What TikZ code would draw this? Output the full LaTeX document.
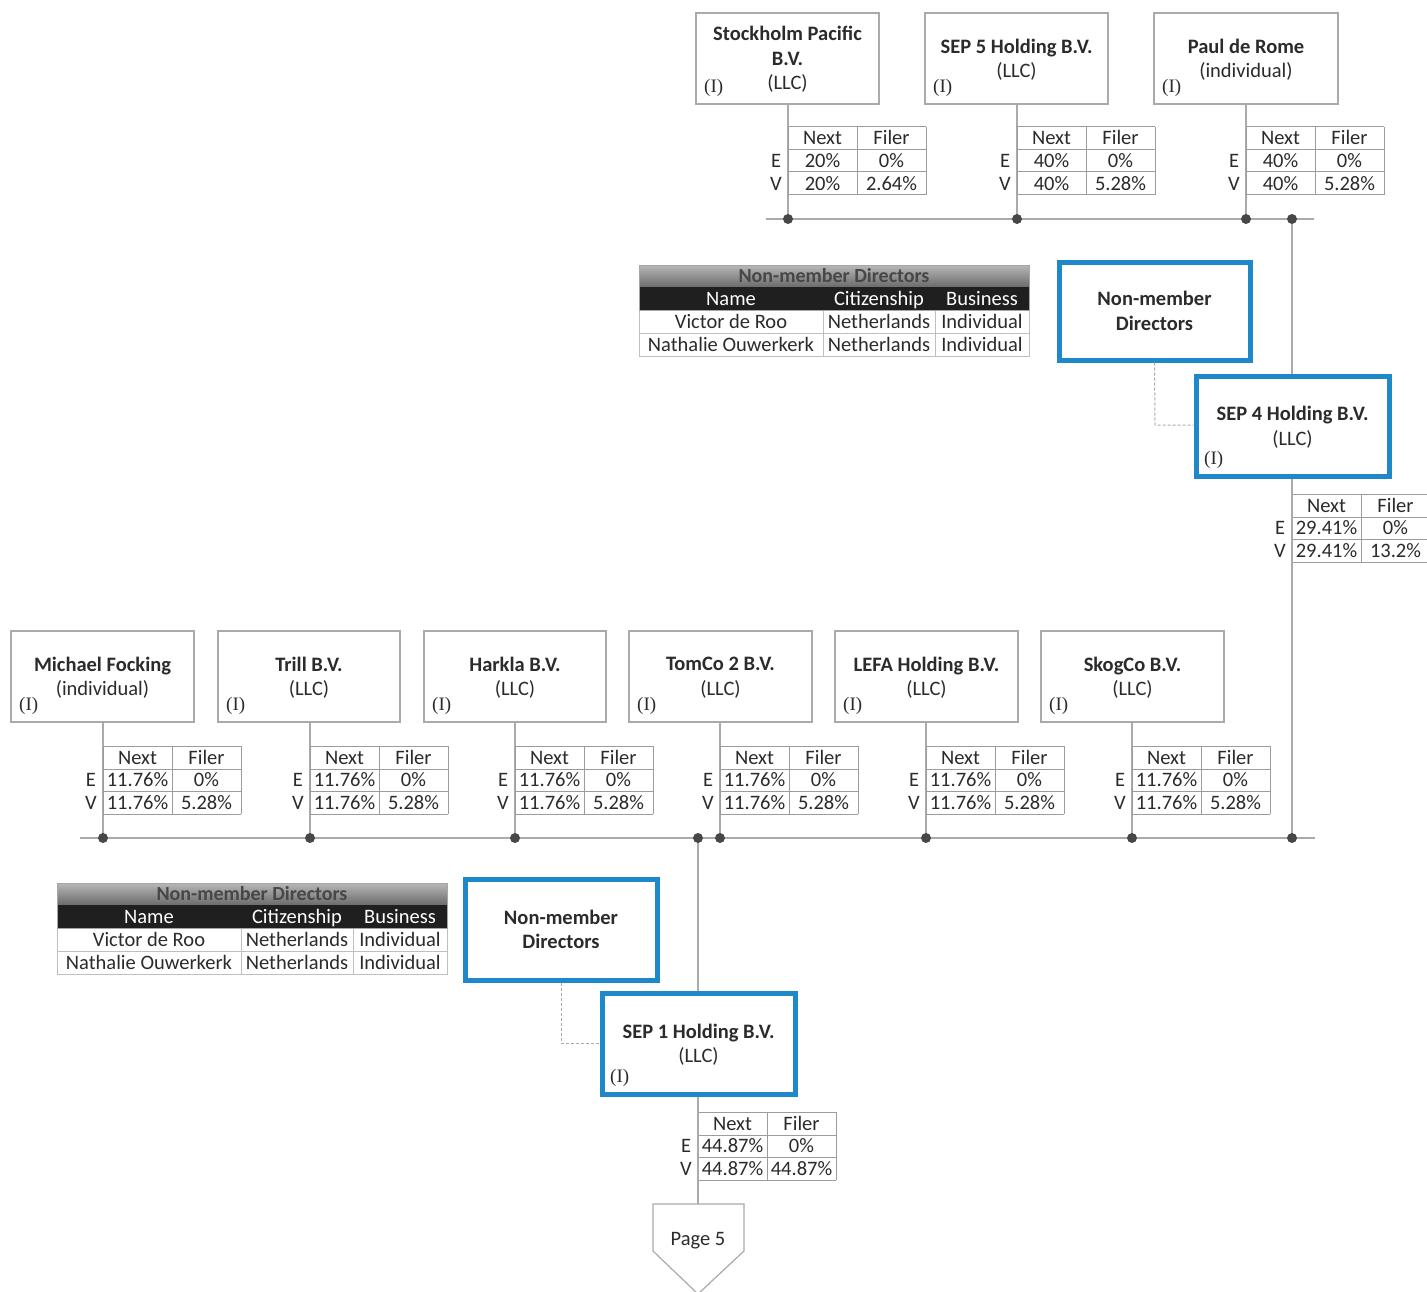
\documentclass[tikz,border=0pt]{standalone}
\usepackage{fontspec}
\setmainfont{Carlito}
\newfontfamily\serifI{Liberation Serif}
\usetikzlibrary{calc}
\definecolor{txt}{HTML}{2B2B2B}
\definecolor{blu}{HTML}{1E88C8}
\definecolor{lin}{HTML}{AAAAAA}
\definecolor{tbl}{HTML}{9C9C9C}
\tikzset{
 ent/.style={draw=lin, line width=1.2pt, fill=white, inner sep=0pt},
 blubox/.style={draw=blu, line width=5pt, fill=white, inner sep=0pt},
 ttl/.style={align=center, text=txt, inner sep=0pt, font=\fontsize{20.5}{24.5}\selectfont},
 ilabel/.style={anchor=west, text=txt, inner sep=0pt, font=\serifI\fontsize{19}{20}\selectfont},
 conn/.style={draw=lin, line width=1.2pt},
 dashconn/.style={draw=lin, line width=1pt, dash pattern=on 3pt off 2pt},
 cell/.style={text=txt, inner sep=0pt, yshift=-1.5pt, text height=14pt, text depth=4pt, font=\fontsize{20.5}{22}\selectfont},
 grid/.style={draw=tbl, line width=1pt},
 busdot/.style={fill=black!72},
}
\newcommand\entity[7]{%
 \node[#7, minimum width={#4-#2}, minimum height={#5-#3}] (#1) at ({(#2+#4)/2},{(#3+#5)/2}) {};
 \node[ttl] (#1t) at ($(#1.center)+(0,1)$) {#6};
 \node[ilabel] (#1i) at ({#2+8},{#5-16}) {(I)};
}
\newcommand\nmdbox[5]{%
 \node[blubox, minimum width={#4-#2}, minimum height={#5-#3}] (#1) at ({(#2+#4)/2},{(#3+#5)/2}) {};
 \node[ttl] (#1t) at ($(#1.center)+(0,0)$) {\textbf{Non-member}\\\textbf{Directors}};
}
\newcommand\owner[7]{%
 \draw[grid] (#2,#3) -- ++(138,0) (#2,{#3+23}) -- ++(138,0) (#2,{#3+45}) -- ++(138,0) (#2,{#3+68}) -- ++(138,0)
   ({#2+69},#3) -- ++(0,68) ({#2+138},#3) -- ++(0,68) (#2,#3) -- ++(0,68);
 \node[cell] (#1n) at ({#2+34.5},{#3+11.5}) {Next};
 \node[cell] (#1f) at ({#2+103.5},{#3+11.5}) {Filer};
 \node[cell] (#1e) at ({#2-12},{#3+34}) {E};
 \node[cell] (#1v) at ({#2-12},{#3+57}) {V};
 \node[cell] (#1a) at ({#2+34.5},{#3+34}) {#4};
 \node[cell] (#1b) at ({#2+103.5},{#3+34}) {#5};
 \node[cell] (#1c) at ({#2+34.5},{#3+57}) {#6};
 \node[cell] (#1d) at ({#2+103.5},{#3+57}) {#7};
}
\newcommand\dirtable[3]{%
 \shade[top color=black!28, bottom color=black!58] (#2,#3) rectangle ({#2+390},{#3+22});
 \fill[black!88] (#2,{#3+22}) rectangle ({#2+390},{#3+45});
 \draw[grid, draw=black!25] (#2,{#3+45}) rectangle ({#2+390},{#3+91}) (#2,{#3+68}) -- ++(390,0)
   ({#2+184},{#3+45}) -- ++(0,46) ({#2+296},{#3+45}) -- ++(0,46);
 \draw[draw=black!35, line width=0.8pt] (#2,#3) rectangle ({#2+390},{#3+45});
 \node[cell, font=\bfseries\fontsize{20}{22}\selectfont, text=black!72] (#1t) at ({#2+195},{#3+11}) {Non-member Directors};
 \node[cell, text=white] (#1h1) at ({#2+92},{#3+33.5}) {Name};
 \node[cell, text=white] (#1h2) at ({#2+240},{#3+33.5}) {Citizenship};
 \node[cell, text=white] (#1h3) at ({#2+343},{#3+33.5}) {Business};
 \node[cell] (#1a1) at ({#2+92},{#3+56.5}) {Victor de Roo};
 \node[cell] (#1a2) at ({#2+240},{#3+56.5}) {Netherlands};
 \node[cell] (#1a3) at ({#2+343},{#3+56.5}) {Individual};
 \node[cell] (#1b1) at ({#2+92},{#3+79.5}) {Nathalie Ouwerkerk};
 \node[cell] (#1b2) at ({#2+240},{#3+79.5}) {Netherlands};
 \node[cell] (#1b3) at ({#2+343},{#3+79.5}) {Individual};
}
\begin{document}
\begin{tikzpicture}[x=1pt,y=-1pt]
\useasboundingbox[fill=white] (0,0) rectangle (1427,1292);

% ---------- top level ----------
\coordinate (tb1) at (788,219);
\coordinate (tb2) at (1017,219);
\coordinate (tb3) at (1246,219);
\coordinate (tb4) at (1292,219);
\coordinate (tbL) at (766,219);
\coordinate (tbR) at (1314,219);
\draw[conn] (tbL) -- (tbR);

\entity{stock}{696}{13}{879}{104}{\textbf{Stockholm Pacific}\\\textbf{B.V.}\\(LLC)}{ent}
\entity{sep5}{925}{13}{1108}{104}{\textbf{SEP 5 Holding B.V.}\\(LLC)}{ent}
\entity{paul}{1154}{13}{1338}{104}{\textbf{Paul de Rome}\\(individual)}{ent}

\draw[conn] (stock.south -| tb1) -- (tb1);
\draw[conn] (sep5.south -| tb2) -- (tb2);
\draw[conn] (paul.south -| tb3) -- (tb3);

\owner{ostock}{788}{127}{20\%}{0\%}{20\%}{2.64\%}
\owner{osep5}{1017}{127}{40\%}{0\%}{40\%}{5.28\%}
\owner{opaul}{1246}{127}{40\%}{0\%}{40\%}{5.28\%}

% ---------- SEP 4 ----------
\dirtable{dtA}{639}{265}
\nmdbox{nmdA}{1059}{262}{1250}{360}
\entity{sep4}{1196}{376}{1389}{476}{\textbf{SEP 4 Holding B.V.}\\(LLC)}{blubox}
\coordinate (dA) at (1155,425);
\draw[dashconn] (nmdA.south) -- (dA) -- (dA -| sep4.west);
\draw[conn] (tb4) -- (tb4 |- sep4.north);
\owner{osep4}{1292}{494}{29.41\%}{0\%}{29.41\%}{13.2\%}

% ---------- middle level ----------
\coordinate (bL) at (80,838);
\coordinate (bR) at (1315,838);
\draw[conn] (bL) -- (bR);
\coordinate (b1) at (103,838);
\coordinate (b2) at (310,838);
\coordinate (b3) at (515,838);
\coordinate (b0) at (698,838);
\coordinate (b4) at (720,838);
\coordinate (b5) at (926,838);
\coordinate (b6) at (1132,838);
\coordinate (b7) at (1292,838);
\draw[conn] (tb4 |- sep4.south) -- (b7);

\entity{mich}{11}{631}{194}{722}{\textbf{Michael Focking}\\(individual)}{ent}
\entity{trill}{218}{631}{400}{722}{\textbf{Trill B.V.}\\(LLC)}{ent}
\entity{hark}{424}{631}{606}{722}{\textbf{Harkla B.V.}\\(LLC)}{ent}
\entity{tomco}{629}{631}{812}{722}{\textbf{TomCo 2 B.V.}\\(LLC)}{ent}
\entity{lefa}{835}{631}{1018}{722}{\textbf{LEFA Holding B.V.}\\(LLC)}{ent}
\entity{skog}{1041}{631}{1224}{722}{\textbf{SkogCo B.V.}\\(LLC)}{ent}

\draw[conn] (mich.south -| b1) -- (b1);
\draw[conn] (trill.south -| b2) -- (b2);
\draw[conn] (hark.south -| b3) -- (b3);
\draw[conn] (tomco.south -| b4) -- (b4);
\draw[conn] (lefa.south -| b5) -- (b5);
\draw[conn] (skog.south -| b6) -- (b6);

\owner{omich}{103}{746}{11.76\%}{0\%}{11.76\%}{5.28\%}
\owner{otrill}{310}{746}{11.76\%}{0\%}{11.76\%}{5.28\%}
\owner{ohark}{515}{746}{11.76\%}{0\%}{11.76\%}{5.28\%}
\owner{otomco}{720}{746}{11.76\%}{0\%}{11.76\%}{5.28\%}
\owner{olefa}{926}{746}{11.76\%}{0\%}{11.76\%}{5.28\%}
\owner{oskog}{1132}{746}{11.76\%}{0\%}{11.76\%}{5.28\%}

% ---------- SEP 1 ----------
\dirtable{dtB}{57}{883}
\nmdbox{nmdB}{465}{879}{657}{980}
\entity{sep1}{602}{993}{795}{1094}{\textbf{SEP 1 Holding B.V.}\\(LLC)}{blubox}
\coordinate (dB) at (561,1043);
\draw[dashconn] (nmdB.south) -- (dB) -- (dB -| sep1.west);
\draw[conn] (b0) -- (b0 |- sep1.north);
\owner{osep1}{698}{1112}{44.87\%}{0\%}{44.87\%}{44.87\%}

% ---------- Page 5 ----------
\coordinate (p5top) at (698,1204);
\draw[conn] (b0 |- sep1.south) -- (p5top);
\draw[draw=lin, line width=1.2pt, fill=white] (653,1204) -- (744,1204) -- (744,1251) -- (698,1294) -- (653,1251) -- cycle;
\node[cell] (page5) at (698,1239) {Page 5};

% ---------- dots ----------
\foreach \p in {tb1,tb2,tb3,tb4,b1,b2,b3,b0,b4,b5,b6,b7}
  \fill[busdot] (\p) circle (5);
\end{tikzpicture}
\end{document}
